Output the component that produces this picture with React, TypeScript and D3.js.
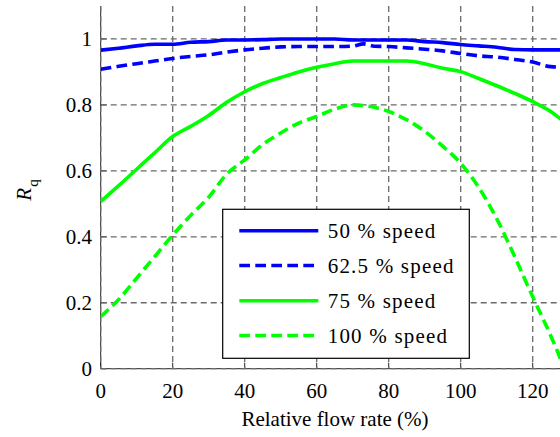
import React, { useEffect, useRef } from "react";
import * as d3 from "d3";

const flow50 = [0, 5, 10, 15, 20, 25, 30, 35, 40, 45, 50, 55, 60, 65, 70, 75, 80, 85, 90, 95, 100, 105, 110, 115, 120, 125, 130, 140];
const rq50 = [0.966, 0.972, 0.979, 0.984, 0.984, 0.99, 0.992, 0.997, 0.997, 0.998, 1.0, 1.0, 1.0, 1.0, 0.997, 0.997, 0.997, 0.997, 0.992, 0.989, 0.983, 0.979, 0.975, 0.968, 0.967, 0.967, 0.967, 0.965];

const flow625 = [0, 5, 10, 15, 20, 25, 30, 35, 40, 45, 50, 55, 60, 65, 70, 73, 76, 80, 85, 90, 95, 100, 105, 110, 115, 120, 125, 130, 140];
const rq625 = [0.908, 0.917, 0.925, 0.933, 0.941, 0.947, 0.952, 0.96, 0.967, 0.972, 0.976, 0.977, 0.977, 0.977, 0.978, 0.985, 0.978, 0.977, 0.973, 0.969, 0.964, 0.956, 0.949, 0.945, 0.938, 0.93, 0.916, 0.914, 0.91];

const flow75 = [0, 5, 10, 15, 20, 25, 30, 35, 40, 45, 50, 55, 60, 65, 70, 75, 80, 85, 90, 95, 100, 105, 110, 115, 120, 125, 128, 132, 140];
const rq75 = [0.507, 0.555, 0.605, 0.655, 0.704, 0.735, 0.768, 0.808, 0.84, 0.865, 0.883, 0.9, 0.914, 0.925, 0.933, 0.933, 0.933, 0.933, 0.925, 0.911, 0.901, 0.88, 0.858, 0.835, 0.81, 0.78, 0.755, 0.72, 0.64];

const flow100 = [0, 5, 10, 15, 20, 25, 30, 35, 40, 45, 50, 55, 60, 65, 70, 75, 80, 85, 90, 95, 100, 105, 110, 115, 120, 125, 128, 130];
const rq100 = [0.158, 0.21, 0.275, 0.34, 0.405, 0.465, 0.52, 0.59, 0.633, 0.68, 0.715, 0.745, 0.765, 0.787, 0.8, 0.795, 0.78, 0.755, 0.72, 0.675, 0.623, 0.55, 0.455, 0.34, 0.218, 0.1, 0.02, -0.05];

const seriesNames = ["50 % speed", "62.5 % speed", "75 % speed", "100 % speed"];
const seriesColors = ["#0000ff", "#0000ff", "#00ff00", "#00ff00"];
const seriesDashed = [false, true, false, true];

const xTicks = [0, 20, 40, 60, 80, 100, 120];
const yTicks = [0, 0.2, 0.4, 0.6, 0.8, 1];
const yTickLabels = ["0", "0.2", "0.4", "0.6", "0.8", "1"];

const serifNames = ["Liberation Serif"];

export default function App() {
  const ref = useRef<SVGSVGElement>(null);
  const fam = `"${serifNames[0]}"`;

  const W = 560;
  const H = 437;
  const x = d3.scaleLinear().domain([0, 140]).range([100.7, 604.7]);
  const y = d3.scaleLinear().domain([0, 1.1]).range([368.7, 6]);
  const x0 = x(0);
  const yTop = y(1.1);
  const yBot = y(0);
  const rowY = [230.7, 265.5, 300.7, 335.5];

  useEffect(() => {
    if (!ref.current) return;
    const g = d3.select(ref.current).select("g.legtext");
    g.selectAll("text")
      .data(seriesNames)
      .join("text")
      .attr("x", 327.7)
      .attr("y", (_d, i) => rowY[i] + 7.5)
      .attr("fill", "#000")
      .style("font-family", fam)
      .style("font-size", "21px")
      .style("letter-spacing", "1.2px")
      .text((d) => d);
  }, []);

  const data = [
    d3.zip(flow50, rq50),
    d3.zip(flow625, rq625),
    d3.zip(flow75, rq75),
    d3.zip(flow100, rq100),
  ];
  const line = d3
    .line<number[]>()
    .x((d) => x(d[0]))
    .y((d) => y(d[1]))
    .curve(d3.curveMonotoneX);

  const gridColor = "#6a6a6a";
  const gridDash = "6,4";
  const lw = 3.6;
  const lineDash = "10.7,5.3";

  const legX = 222.7;
  const legY = 209.3;
  const legW = 246.6;
  const legH = 149;

  return (
    <svg
      ref={ref}
      width={W}
      height={H}
      style={{ position: "absolute", left: 0, top: 0, background: "#fff" }}
    >
      <defs>
        <clipPath id="plotClip">
          <rect x={x0} y={yTop} width={x(140) - x0} height={yBot - yTop} />
        </clipPath>
      </defs>
      <rect x={0} y={0} width={W} height={H} fill="#fff" />
      <line x1={x0} x2={x0} y1={yTop} y2={yBot} stroke="#222" strokeWidth={1} />
      <line x1={x0} x2={x(140)} y1={yBot} y2={yBot} stroke="#222" strokeWidth={1} />
      {xTicks.map((t) => (
        <line key={"xt" + t} x1={x(t)} x2={x(t)} y1={yBot} y2={yBot - 6} stroke="#222" strokeWidth={1} />
      ))}
      {yTicks.map((t) => (
        <line key={"yt" + t} x1={x0} x2={x0 + 6} y1={y(t)} y2={y(t)} stroke="#222" strokeWidth={1} />
      ))}
      {[...xTicks, 140].map((t) => (
        <line key={"gx" + t} x1={x(t)} x2={x(t)} y1={yTop} y2={yBot} stroke={gridColor} strokeWidth={1.3} strokeDasharray={gridDash} />
      ))}
      {yTicks.map((t) => (
        <line key={"gy" + t} x1={x0} x2={x(140)} y1={y(t)} y2={y(t)} stroke={gridColor} strokeWidth={1.3} strokeDasharray={gridDash} />
      ))}
      <g clipPath="url(#plotClip)">
        {data.map((d, i) => (
          <path
            key={"s" + i}
            d={line(d as number[][]) || ""}
            fill="none"
            stroke={seriesColors[i]}
            strokeWidth={lw}
            strokeDasharray={seriesDashed[i] ? lineDash : undefined}
            strokeLinejoin="round"
          />
        ))}
      </g>
      {xTicks.map((t) => (
        <text key={"xl" + t} x={x(t)} y={398} textAnchor="middle" style={{ fontFamily: fam, fontSize: "21px" }}>
          {String(t)}
        </text>
      ))}
      {yTicks.map((t, i) => (
        <text key={"yl" + t} x={92} y={y(t) + 7.5} textAnchor="end" style={{ fontFamily: fam, fontSize: "21px" }}>
          {yTickLabels[i]}
        </text>
      ))}
      <foreignObject x={200} y={405} width={270} height={30}>
        <div style={{ fontFamily: fam, fontSize: "21px", lineHeight: "28px", textAlign: "center", color: "#000" }}>
          Relative flow rate (%)
        </div>
      </foreignObject>
      <text transform="translate(31,190) rotate(-90)" textAnchor="middle" style={{ fontFamily: fam, fontSize: "21px" }}>
        <tspan fontStyle="italic">R</tspan>
        <tspan dy={7} dx={1} style={{ fontSize: "15px" }}>q</tspan>
      </text>
      <rect x={legX} y={legY} width={legW} height={legH} fill="#fff" stroke="#000" strokeWidth={1.2} />
      {seriesNames.map((n, i) => (
        <line
          key={"ll" + i}
          x1={239.3}
          x2={318.3}
          y1={rowY[i]}
          y2={rowY[i]}
          stroke={seriesColors[i]}
          strokeWidth={lw}
          strokeDasharray={seriesDashed[i] ? lineDash : undefined}
        />
      ))}
      <g className="legtext" />
    </svg>
  );
}
